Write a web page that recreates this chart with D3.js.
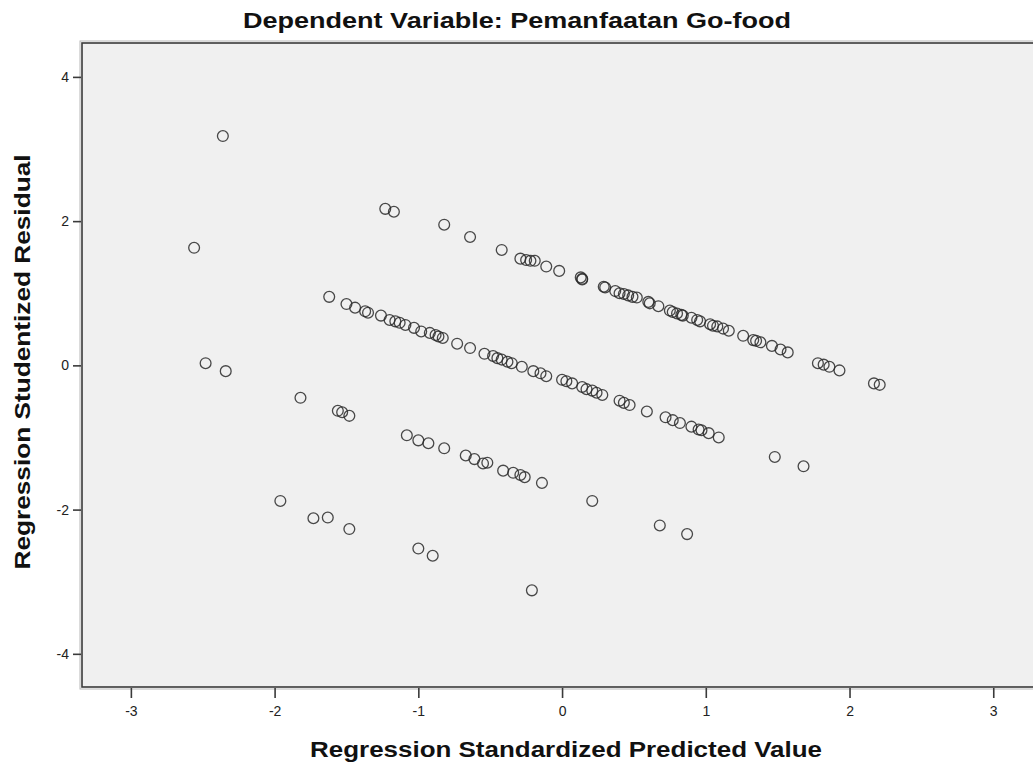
<!DOCTYPE html>
<html>
<head>
<meta charset="utf-8">
<script src="https://cdn.jsdelivr.net/npm/d3@7"></script>
<style>
  html, body { margin: 0; padding: 0; background: #ffffff; }
  svg { display: block; }
  text { font-family: "Liberation Sans", Arial, sans-serif; }
</style>
</head>
<body>
<svg id="chart" width="1033" height="767"></svg>
<script>
const titleText = "Dependent Variable: Pemanfaatan Go-food";
const xLabel = "Regression Standardized Predicted Value";
const yLabel = "Regression Studentized Residual";
const xTicks = [-3, -2, -1, 0, 1, 2, 3];
const yTicks = [-4, -2, 0, 2, 4];

// Regression Standardized Predicted Value
const predicted = [
  -2.36,
  -1.23, -1.17, -0.82, -0.64, -0.42, -0.29, -0.25, -0.22, -0.19, -0.11, -0.02,
  0.13, 0.14, 0.14, 0.29, 0.30, 0.37, 0.40, 0.43, 0.46, 0.49, 0.52, 0.60, 0.61,
  0.67, 0.75, 0.77, 0.80, 0.83, 0.84, 0.90, 0.94, 0.96, 1.03, 1.05, 1.08, 1.12,
  1.16, 1.26, 1.33, 1.35, 1.38, 1.46, 1.52, 1.57, 1.78, 1.82, 1.86, 1.93, 2.17, 2.21,
  -2.56, -1.62, -1.50, -1.44, -1.37, -1.35, -1.26, -1.20, -1.16, -1.13, -1.09,
  -1.03, -0.98, -0.92, -0.88, -0.86, -0.83, -0.73, -0.64, -0.54, -0.48, -0.45,
  -0.42, -0.38, -0.35, -0.28, -0.20, -0.15, -0.11, 0.00, 0.03, 0.07, 0.14, 0.17,
  0.21, 0.24, 0.28, 0.40, 0.43, 0.47, 0.59, 0.72, 0.77, 0.82, 0.90, 0.95, 0.97,
  1.02, 1.09, 1.48, 1.68,
  -2.48, -2.34, -1.82, -1.56, -1.53, -1.48, -1.08, -1.00, -0.93, -0.82, -0.67,
  -0.61, -0.55, -0.52, -0.41, -0.34, -0.29, -0.26, -0.14, 0.21, 0.68, 0.87,
  -1.96, -1.73, -1.63, -1.48, -1.00, -0.90, -0.21
];

// Regression Studentized Residual
const residual = [
  3.18,
  2.17, 2.13, 1.95, 1.78, 1.60, 1.48, 1.46, 1.45, 1.45, 1.37, 1.31,
  1.22, 1.20, 1.19, 1.09, 1.08, 1.03, 1.00, 0.99, 0.97, 0.95, 0.94, 0.88, 0.86,
  0.82, 0.76, 0.74, 0.72, 0.70, 0.69, 0.66, 0.63, 0.61, 0.57, 0.55, 0.54, 0.51,
  0.48, 0.41, 0.35, 0.34, 0.32, 0.27, 0.22, 0.18, 0.03, 0.01, -0.02, -0.07, -0.25, -0.27,
  1.63, 0.95, 0.85, 0.80, 0.75, 0.73, 0.69, 0.63, 0.61, 0.59, 0.56,
  0.52, 0.47, 0.45, 0.42, 0.40, 0.38, 0.30, 0.24, 0.16, 0.13, 0.10,
  0.08, 0.05, 0.03, -0.02, -0.08, -0.11, -0.15, -0.20, -0.22, -0.25, -0.30, -0.33,
  -0.35, -0.38, -0.41, -0.49, -0.52, -0.55, -0.64, -0.72, -0.76, -0.80, -0.85, -0.89, -0.90,
  -0.94, -1.00, -1.27, -1.40,
  0.03, -0.08, -0.45, -0.63, -0.65, -0.70, -0.97, -1.04, -1.08, -1.15, -1.25,
  -1.30, -1.36, -1.35, -1.46, -1.49, -1.52, -1.55, -1.63, -1.88, -2.22, -2.34,
  -1.88, -2.12, -2.11, -2.27, -2.54, -2.64, -3.12
];

const points = predicted.map((p, i) => ({ x: p, y: residual[i] }));

const svg = d3.select("#chart");
const plot = { left: 82, top: 43, right: 1045, bottom: 687 };

const x = d3.scaleLinear().domain([-3.34, 3.36]).range([plot.left, plot.right]);
const y = d3.scaleLinear().domain([-4.46, 4.47]).range([plot.bottom, plot.top]);

// background + frame with shadow
svg.append("rect")
  .attr("x", plot.left - 2).attr("y", plot.top - 2)
  .attr("width", plot.right - plot.left + 4).attr("height", plot.bottom - plot.top + 4)
  .attr("fill", "none").attr("stroke", "#b8b8b8").attr("stroke-width", 1);
svg.append("rect")
  .attr("x", plot.left).attr("y", plot.top)
  .attr("width", plot.right - plot.left).attr("height", plot.bottom - plot.top)
  .attr("fill", "#f0f0f0").attr("stroke", "#3a3a3a").attr("stroke-width", 1.6);

const fmt = d => String(d);

// axes
const xAxis = svg.append("g")
  .attr("transform", `translate(0,${plot.bottom + 1})`)
  .call(d3.axisBottom(x).tickValues(xTicks).tickSize(10).tickPadding(8).tickFormat(fmt));
const yAxis = svg.append("g")
  .attr("transform", `translate(${plot.left - 1},0)`)
  .call(d3.axisLeft(y).tickValues(yTicks).tickSize(8).tickPadding(4).tickFormat(fmt));

[xAxis, yAxis].forEach(g => {
  g.select(".domain").remove();
  g.selectAll(".tick line").attr("stroke", "#3a3a3a").attr("stroke-width", 1.6);
  g.selectAll(".tick text").attr("fill", "#222").style("font-size", "14px")
    .style("font-family", "'Liberation Sans', Arial, sans-serif");
});

// points
svg.append("g")
  .selectAll("circle")
  .data(points)
  .join("circle")
  .attr("cx", d => x(d.x))
  .attr("cy", d => y(d.y))
  .attr("r", 5.4)
  .attr("fill", "none")
  .attr("stroke", "#2a2a2a")
  .attr("stroke-opacity", 0.85)
  .attr("stroke-width", 1.3);

// title
svg.append("text")
  .attr("x", 517).attr("y", 28)
  .attr("text-anchor", "middle")
  .attr("font-weight", "bold")
  .style("font-size", "22px")
  .attr("fill", "#111")
  .attr("textLength", 548).attr("lengthAdjust", "spacingAndGlyphs")
  .text(titleText);

// x label
svg.append("text")
  .attr("x", 566).attr("y", 757)
  .attr("text-anchor", "middle")
  .attr("font-weight", "bold")
  .style("font-size", "22px")
  .attr("fill", "#111")
  .attr("textLength", 512).attr("lengthAdjust", "spacingAndGlyphs")
  .text(xLabel);

// y label
svg.append("text")
  .attr("transform", `translate(30,${362}) rotate(-90)`)
  .attr("text-anchor", "middle")
  .attr("font-weight", "bold")
  .style("font-size", "22px")
  .attr("fill", "#111")
  .attr("textLength", 415).attr("lengthAdjust", "spacingAndGlyphs")
  .text(yLabel);
</script>
</body>
</html>
